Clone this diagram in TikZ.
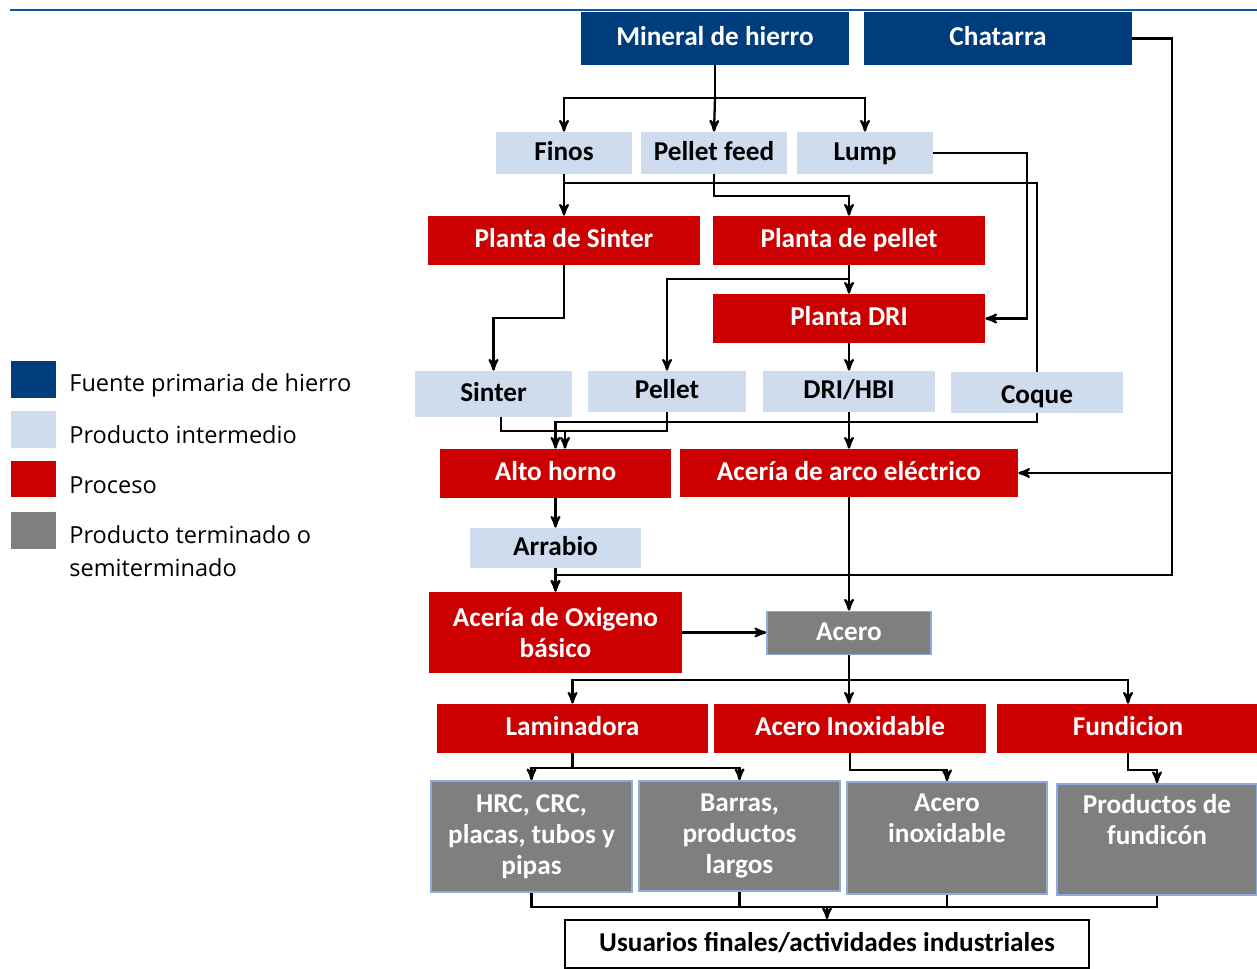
\documentclass[tikz,border=0pt]{standalone}
\usepackage{fontspec}
\usepackage{tikz}
\usetikzlibrary{arrows}
\newfontfamily\boxfont{Carlito}
\newfontfamily\legfont{Open Sans}
\definecolor{fuente}{HTML}{003D7C}
\definecolor{intermedio}{HTML}{CFDCEE}
\definecolor{proceso}{HTML}{CC0000}
\definecolor{terminado}{HTML}{7F7F7F}
\definecolor{borde}{HTML}{8FAADC}
\definecolor{linea}{HTML}{0B55A3}
\tikzset{
  caja/.style={shape=rectangle, inner sep=0pt, align=center, text height=8pt, text depth=0pt,
    font=\boxfont\bfseries\fontsize{15.5}{17.5}\selectfont},
  multi/.style={text height={}, text depth={}},
  fuentebox/.style={caja, fill=fuente, text=white},
  interbox/.style={caja, fill=intermedio, text=black},
  procbox/.style={caja, fill=proceso, text=white},
  prodbox/.style={caja, multi, fill=terminado, draw=borde, line width=1pt, text=white},
  finalbox/.style={caja, fill=white, draw=black, line width=1pt, text=black},
  legbox/.style={shape=rectangle, inner sep=0pt, minimum width=0.9cm, minimum height=0.74cm},
  legtext/.style={anchor=west, align=left, inner sep=0pt, font=\legfont\fontsize{13.4}{19}\selectfont},
  flow/.style={line width=1.3pt, ->, >=stealth'},
  link/.style={line width=1.3pt}
}
\begin{document}
\begin{tikzpicture}[x=0.02cm, y=-0.02cm]
     \useasboundingbox (0,0) rectangle (1257,969);
     \draw[color=linea, line width=1.5pt] (10,10) -- (1257,10);

     % legend
     \node[legbox, fill=fuente]     (leg1) at (33.5,379.5) {};
     \node[legbox, fill=intermedio] (leg2) at (33.5,429.5) {};
     \node[legbox, fill=proceso]    (leg3) at (33.5,479) {};
     \node[legbox, fill=terminado]  (leg4) at (33.5,530.5) {};
     \node[legtext] (legt1) at (69,385) {Fuente primaria de hierro};
     \node[legtext] (legt2) at (69,435) {Producto intermedio};
     \node[legtext] (legt3) at (69,485) {Proceso};
     \node[legtext] (legt4) at (69,551) {Producto terminado o\\semiterminado};

     % sources
     \node[fuentebox, minimum width=5.36cm, minimum height=1.06cm] (mineral)  at (715,38.5) {Mineral de hierro};
     \node[fuentebox, minimum width=5.36cm, minimum height=1.06cm] (chatarra) at (998,38.5) {Chatarra};

     \node[interbox, minimum width=2.72cm, minimum height=0.84cm] (finos) at (564,153) {Finos};
     \node[interbox, minimum width=2.94cm, minimum height=0.84cm] (pfeed) at (714,153) {Pellet feed};
     \node[interbox, minimum width=2.72cm, minimum height=0.84cm] (lump)  at (865,153) {Lump};

     \node[procbox, minimum width=5.44cm, minimum height=0.98cm] (psinter) at (564,240.5) {Planta de Sinter};
     \node[procbox, minimum width=5.44cm, minimum height=0.98cm] (ppellet) at (849,240.5) {Planta de pellet};
     \node[procbox, minimum width=5.44cm, minimum height=0.98cm] (pdri)    at (849,318.5) {Planta DRI};

     \node[interbox, minimum width=3.14cm, minimum height=0.92cm] (sinter) at (493.5,394) {Sinter};
     \node[interbox, minimum width=3.16cm, minimum height=0.82cm] (pellet) at (667,391.5) {Pellet};
     \node[interbox, minimum width=3.44cm, minimum height=0.82cm] (dri)    at (849,391.5) {DRI/HBI};
     \node[interbox, minimum width=3.44cm, minimum height=0.82cm] (coque)  at (1037,392.5) {\raisebox{-2pt}{Coque}};

     \node[procbox, minimum width=4.62cm, minimum height=0.98cm] (alto) at (555.5,473.5) {Alto horno};
     \node[procbox, minimum width=6.76cm, minimum height=0.96cm] (eaf)  at (849,473) {Acería de arco eléctrico};
     \node[interbox, minimum width=3.42cm, minimum height=0.8cm] (arrabio) at (555.5,548) {Arrabio};
     \node[procbox, multi, minimum width=5.06cm, minimum height=1.62cm] (bof) at (555.5,632.5) {Acería de Oxigeno\\básico};
     \node[prodbox, caja, minimum width=3.28cm, minimum height=0.86cm] (acero) at (849,633) {Acero};

     \node[procbox, minimum width=5.42cm, minimum height=0.98cm] (lamin) at (572.5,728.5) {Laminadora};
     \node[procbox, minimum width=5.44cm, minimum height=0.98cm] (inox)  at (850,728.5) {Acero Inoxidable};
     \node[procbox, minimum width=5.24cm, minimum height=0.98cm] (fund)  at (1128,728.5) {Fundicion};

     \node[prodbox, minimum width=4.02cm, minimum height=2.22cm] (hrc)    at (531.5,836.5) {HRC, CRC,\\placas, tubos y\\pipas};
     \node[prodbox, minimum width=4.02cm, minimum height=2.2cm]  (barras) at (739.5,836) {Barras,\\productos\\largos};
     \node[prodbox, minimum width=4.0cm, minimum height=2.24cm]  (ainox)  at (947,838) {Acero\\inoxidable\\\strut};
     \node[prodbox, minimum width=4.0cm, minimum height=2.22cm]  (pfund)  at (1157,839.5) {Productos de\\fundicón\\\strut};

     \node[finalbox, minimum width=10.48cm, minimum height=0.96cm] (usuarios) at (827,944) {Usuarios finales/actividades industriales};

     % connectors
     \coordinate (mj) at (715,98);
     \draw[link] (mineral.south) -- (mj);
     \draw[flow] (mj) -| (finos.north);
     \draw[flow] (mj) -- (pfeed.north);
     \draw[flow] (mj) -| (lump.north);

     \draw[flow] (finos.south) -- (psinter.north);
     \coordinate (kf) at (564,183);
     \draw[link] (coque.north) |- (kf);
     \draw[flow] (pfeed.south) -- ++(0,22) -| (ppellet.north);
     \coordinate (lr) at (1027,153);
     \draw[flow] (lump.east) -- (lr) |- (pdri.east);

     \draw[flow] (ppellet.south) -- (pdri.north);
     \draw[flow] (ppellet.south) -- ++(0,14) -| (pellet.north);
     \draw[flow] (psinter.south) -- ++(0,53) -| (sinter.north);
     \draw[flow] (pdri.south) -- (dri.north);

     \coordinate (sa) at (565,431);
     \draw[link] ([xshift=0.15cm]sinter.south) -- ++(0,14) -| (pellet.south);
     \draw[flow] (sa) -- (sa |- alto.north);
     \draw[flow] (coque.south) -- ++(0,9) -| (alto.north);
     \draw[flow] (dri.south) -- (eaf.north);

     \coordinate (cb) at (1172,575);
     \draw[flow] (chatarra.east) -| (cb) -| (bof.north);
     \draw[flow] (cb |- eaf.east) -- (eaf.east);

     \draw[flow] (alto.south) -- (arrabio.north);
     \draw[flow] (arrabio.south) -- (bof.north);
     \draw[flow] (eaf.south) -- (acero.north);
     \draw[flow] (bof.east) -- (bof.east -| acero.west);

     \coordinate (aj) at (849,680);
     \draw[link] (acero.south) -- (aj);
     \draw[flow] (aj) -| (lamin.north);
     \draw[flow] (aj) -- (aj |- inox.north);
     \draw[flow] (aj) -| (fund.north);

     \draw[flow] (lamin.south) -- ++(0,15) -| (hrc.north);
     \draw[flow] (lamin.south) -- ++(0,15) -| (barras.north);
     \draw[flow] (inox.south) -- ++(0,17) -| (ainox.north);
     \draw[flow] (fund.south) -- ++(0,17) -| (pfund.north);

     \coordinate (uj) at (827,907);
     \draw[link] (hrc.south) |- (uj);
     \draw[link] (barras.south) |- (uj);
     \draw[link] (ainox.south) |- (uj);
     \draw[link] (pfund.south) |- (uj);
     \draw[flow] (uj) -- (usuarios.north);
\end{tikzpicture}
\end{document}
